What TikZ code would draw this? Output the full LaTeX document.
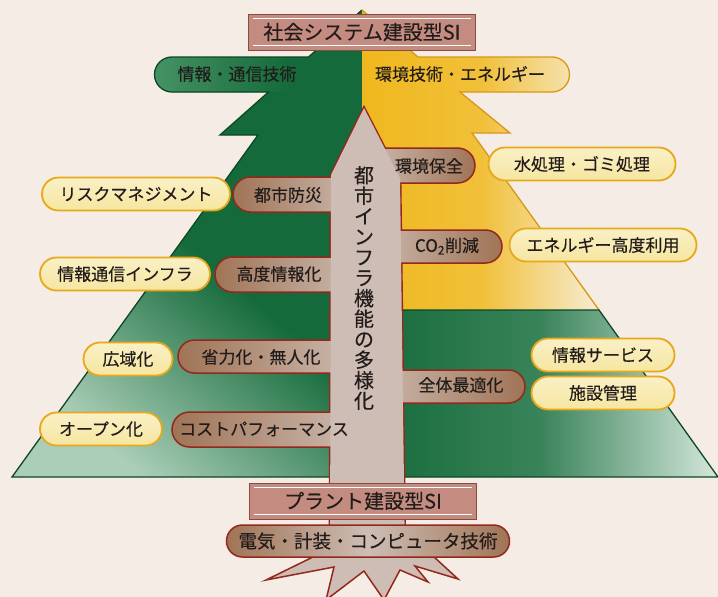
\documentclass[tikz,border=0pt]{standalone}
\usepackage{fontspec}
\setmainfont{Noto Sans CJK JP}[FakeBold=0.3]
\usetikzlibrary{shapes.misc}

\definecolor{paper}{RGB}{244,236,229}
\definecolor{pinedark}{RGB}{20,106,58}
\definecolor{pinemid}{RGB}{70,146,100}
\definecolor{pinepale}{RGB}{170,206,184}
\definecolor{pineline}{RGB}{12,72,38}
\definecolor{goldleaf}{RGB}{240,184,30}
\definecolor{goldline}{RGB}{216,152,22}
\definecolor{creamleaf}{RGB}{246,236,210}
\definecolor{barkfill}{RGB}{206,189,180}
\definecolor{barkdark}{RGB}{160,116,86}
\definecolor{barkline}{RGB}{148,40,28}
\definecolor{tagfill}{RGB}{196,140,128}
\definecolor{tagline}{RGB}{138,76,64}
\definecolor{pillfill}{RGB}{246,230,160}
\definecolor{pillline}{RGB}{232,168,28}
\definecolor{ink}{RGB}{34,28,26}

\newcommand\pineleftedge{(362,10) -- (308.5,57) -- (172,57) arc[start angle=270, end angle=90, radius=17.5] -- (268.5,92) -- (220,135) -- (258,135) -- (12,477) -- (331,477)}
\newcommand\pinerightedge{(362,10) -- (418,57) -- (552,57) arc[start angle=-90, end angle=90, radius=17.5] -- (460,92) -- (510,133) -- (472,133) -- (599,310)}

\begin{document}
\begin{tikzpicture}[x=1pt, y=-1pt,
        txt/.style={font=\fontsize{17}{17}\selectfont, text=ink, inner sep=0pt},
        pill/.style={rounded rectangle, draw=pillline, line width=1.8pt, top color=pillfill!60!white, bottom color=pillfill, minimum height=33pt, font=\fontsize{17}{17}\selectfont, text=ink, inner sep=0pt},
        bark/.style={draw=barkline, line width=1.5pt},
        sitag/.style={rectangle, draw=tagline, line width=1pt, fill=tagfill, minimum width=227pt, minimum height=36pt, font=\fontsize{20}{20}\selectfont, text=ink},
    ]
    \fill[paper] (0,0) rectangle (718,597);
    \useasboundingbox (0,0) rectangle (718,597);

    \shade[top color=pinedark, bottom color=pinepale, middle color=pinedark, shading angle=-40] \pineleftedge -- (362,477) -- cycle;
    \shade[left color=pinemid, right color=pinedark] (290,57) -- (172,57) arc[start angle=270, end angle=90, radius=17.5] -- (290,92) -- cycle;
    \shade[left color=goldleaf, right color=creamleaf, middle color=goldleaf!85!creamleaf] \pinerightedge -- (362,310) -- cycle;
    \shade[left color=pinedark, right color=pinepale!50!white, middle color=pinedark!75!pinepale] (362,310) -- (599,310) -- (718,477) -- (362,477) -- cycle;
    \draw[pineline, line width=1.3pt] \pineleftedge;
    \draw[goldline, line width=1.3pt] \pinerightedge;
    \draw[pineline, line width=1.3pt] (362,310) -- (599,310) -- (718,477) -- (400,477);

    \filldraw[fill=barkfill, draw=barkline, line width=2.8pt] (330,560) -- (331,175) -- (364,108) -- (400,178) -- (405,560) -- cycle;
    \foreach \yt/\yb/\xe in {177/212/233, 257/292/215, 340/373/178, 412/447/172} {
        \pgfmathsetmacro\rad{(\yb-\yt)/2}
        \shadedraw[bark, left color=barkdark, right color=barkfill] (366,\yt) -- (\xe+\rad,\yt) arc[start angle=270, end angle=90, radius=\rad] -- (366,\yb) -- cycle;
    }
    \foreach \yt/\yb/\xe in {148/183/475, 230/263/502, 370/403/525} {
        \pgfmathsetmacro\rad{(\yb-\yt)/2}
        \shadedraw[bark, left color=barkfill, right color=barkdark] (362,\yt) -- (\xe-\rad,\yt) arc[start angle=-90, end angle=90, radius=\rad] -- (362,\yb) -- cycle;
    }
    \fill[barkfill] (330,560) -- (331,175) -- (364,108) -- (400,178) -- (405,560) -- cycle;

    \filldraw[fill=barkfill, draw=barkline, line width=1.5pt] (315,556) -- (266,580) -- (334,567) -- (326,600) -- (364,571) -- (384,600) -- (400,570) -- (428,582) -- (415,566) -- (458,579) -- (433,556) -- cycle;
    \node[rounded rectangle, bark, left color=barkdark, right color=barkdark, middle color=barkfill, minimum width=283pt, minimum height=32pt, font=\fontsize{18.5}{18.5}\selectfont, text=ink, inner sep=0pt] (denki) at (368,541) {電気・計装・コンピュータ技術};
    \node[sitag] (shakai) at (362,32) {社会システム建設型SI};
    \node[sitag] (plant) at (363,501) {プラント建設型SI};
    \foreach \n in {shakai, plant} {
        \draw[white, line width=1.6pt] ([xshift=5pt, yshift=-5pt]\n.north west) -- ([xshift=-5pt, yshift=-5pt]\n.north east);
        \draw[white, line width=1.6pt] ([xshift=5pt, yshift=5pt]\n.south west) -- ([xshift=-5pt, yshift=5pt]\n.south east);
    }

    \foreach \n/\x/\y/\w/\t in {risk/136/194/188/リスクマネジメント, infra/125/274/170/情報通信インフラ, koiki/128/359/89/広域化, open/101/429/122/オープン化, mizu/582/164/187/水処理・ゴミ処理, enerugi/603/245/187/エネルギー高度利用, service/603/355/143/情報サービス, shisetsu/603/393/143/施設管理}
        \node[pill, minimum width=\w pt] (\n) at (\x,\y) {\t};
    \foreach \n/\x/\y/\t in {bousai/288/195/都市防災, kodo/279/274/高度情報化, shoryoku/261/357/省力化・無人化, cost/264/429/コストパフォーマンス, hozen/429/166/環境保全, co2/447/246/CO\textsubscript{2}削減, saiteki/461/385/全体最適化}
        \node[txt] (\n) at (\x,\y) {\t};
    \node[txt] (joho) at (237,74) {情報・通信技術};
    \node[txt] (kankyo) at (460,74) {環境技術・エネルギー};
    \node[txt, font=\fontsize{20}{20.5}\selectfont, align=center] (toshi) at (364,288) {都\\市\\イ\\ン\\フ\\ラ\\機\\能\\の\\多\\様\\化};
\end{tikzpicture}
\end{document}
